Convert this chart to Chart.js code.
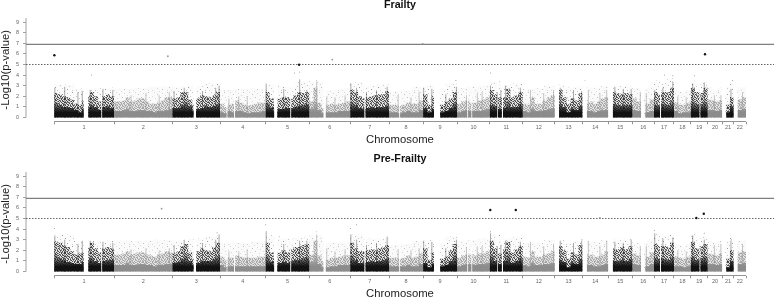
<!DOCTYPE html>
<html lang="en">
<head>
<meta charset="UTF-8" />
<title>Manhattan plots</title>
<script src="https://cdn.jsdelivr.net/npm/chart.js"></script>
<style>
    html, body { margin: 0; padding: 0; background: #fff; overflow: hidden; }
    .panel { position: absolute; left: 0; width: 778px; height: 145px; filter: blur(0.35px); }
</style>
</head>
<body>
<div class="panel" style="top:0"><canvas id="frailtyChart"></canvas></div>
<div class="panel" style="top:154px"><canvas id="preFrailtyChart"></canvas></div>
<script>
// genome position of chromosome edges (Mb)
const chromEdges = [0, 249, 492, 690, 880, 1061, 1232, 1393, 1535, 1676, 1812, 1949, 2082, 2197, 2304, 2405, 2495, 2578, 2648, 2718, 2780, 2826, 2878];
const chromNames = ['1', '2', '3', '4', '5', '6', '7', '8', '9', '10', '11', '12', '13', '14', '15', '16', '17', '18', '19', '20', '21', '22'];
const yTickValues = [0, 1, 2, 3, 4, 5, 6, 7, 8, 9];
const genomeLine = 6.9;
const suggestiveLine = 5;

// blank columns of the cloud (Mb)
const gapStarts = [123, 196, 580, 717, 748, 915, 982, 1120, 1290, 1435, 1580, 1718, 1735, 1842, 1862, 2082, 2197, 2304, 2441, 2520, 2684, 2778, 2826];
const gapEnds = [142, 200, 590, 721, 752, 928, 986, 1130, 1295, 1439, 1604, 1722, 1739, 1846, 1867, 2100, 2216, 2324, 2453, 2524, 2688, 2790, 2842];

// how many height readings per chromosome
const binCounts = [15, 15, 12, 12, 11, 10, 10, 8, 8, 8, 8, 8, 7, 7, 6, 5, 5, 4, 4, 4, 3, 3];
const hazeCount = 3;

// Frailty: height of solid cloud, speckled cloud and thin haze
const frailtyCore = [
    1.4, 1.2, 1.0, 1.0, 0.9, 0.7, 0.5, 0.8, 1.0, 1.2, 1.0, 0.7, 1.0, 1.1, 0.9,
    0.6, 0.6, 0.7, 0.8, 0.6, 0.6, 0.7, 0.7, 0.6, 0.6, 0.5, 0.6, 0.6, 0.7, 0.8,
    0.9, 0.9, 1.2, 1.5, 1.1, 0.6, 0.8, 0.9, 1.1, 1.0, 1.1, 1.3,
    0.5, 0.4, 0.6, 0.5, 0.6, 0.6, 0.5, 0.4, 0.5, 0.5, 0.5, 0.6,
    1.4, 0.9, 0.5, 0.8, 0.8, 0.9, 0.9, 1.0, 1.1, 1.2, 1.3,
    0.8, 1.5, 0.7, 0.4, 0.5, 0.5, 0.5, 0.6, 0.6, 0.6,
    1.4, 1.2, 0.9, 0.8, 0.9, 1.0, 0.9, 1.0, 1.0, 1.1,
    0.5, 0.5, 0.4, 0.5, 0.6, 0.5, 0.5, 0.7,
    0.9, 0.5, 0.8, 0, 0.5, 0.6, 0.9, 1.4,
    0.5, 0.6, 0.7, 0.6, 0.6, 0.6, 0.7, 0.8,
    1.2, 1.1, 0.8, 0.9, 1.6, 1.0, 1.0, 1.3,
    0.6, 0.5, 0.8, 0.6, 0.6, 0.7, 0.8, 0.9,
    1.2, 1.3, 1.0, 0.5, 0.8, 0.7, 1.1,
    0, 0.6, 0.6, 0.5, 0.6, 0.7, 0.7,
    0, 1.3, 1.2, 1.1, 1.2, 1.2,
    0.7, 0.6, 0, 0.5, 0.6,
    1.2, 1.1, 1.3, 1.2, 1.5,
    0.6, 0.4, 0.5, 0.5,
    1.5, 1.3, 1.3, 1.5,
    0.7, 0.7, 0.6, 0.7,
    0, 0.5, 1.1,
    0, 0.7, 0.8
];
const frailtyMid = [
    2.3, 2.2, 2.0, 1.9, 1.7, 1.3, 1.2, 1.6, 2.0, 2.4, 2.0, 1.5, 2.0, 2.2, 2.0,
    1.5, 1.5, 1.6, 1.9, 1.5, 1.6, 1.8, 1.8, 1.5, 1.3, 1.3, 1.4, 1.6, 1.9, 1.9,
    1.8, 1.9, 2.4, 2.4, 1.7, 1.2, 1.8, 2.1, 2.0, 1.9, 2.1, 2.4,
    1.3, 1.0, 1.2, 1.3, 1.6, 1.4, 1.2, 1.1, 1.2, 1.3, 1.4, 1.4,
    2.4, 1.8, 1.2, 1.8, 1.9, 1.9, 1.8, 2.1, 2.4, 2.3, 2.4,
    1.5, 2.8, 1.4, 0.9, 1.2, 1.3, 1.2, 1.3, 1.4, 1.5,
    2.6, 2.4, 2.0, 1.8, 1.9, 2.0, 2.1, 2.2, 2.2, 2.5,
    1.2, 1.2, 1.1, 1.2, 1.4, 1.3, 1.3, 1.6,
    2.2, 1.2, 2.0, 0, 1.2, 1.5, 1.8, 2.4,
    1.3, 1.5, 1.6, 1.4, 1.4, 1.6, 1.7, 1.9,
    2.6, 2.2, 1.9, 1.9, 2.7, 1.9, 2.1, 2.4,
    1.3, 1.2, 1.9, 1.3, 1.3, 1.6, 1.9, 2.1,
    2.4, 2.6, 1.9, 1.3, 1.8, 1.6, 2.3,
    0, 1.4, 1.5, 1.3, 1.5, 1.8, 1.9,
    0, 2.4, 2.3, 2.2, 2.3, 2.2,
    1.8, 1.5, 0, 1.3, 1.7,
    2.4, 2.2, 2.4, 2.4, 2.8,
    1.4, 1.2, 1.2, 1.4,
    2.8, 2.4, 2.3, 2.8,
    1.7, 1.6, 1.5, 1.6,
    0, 1.2, 1.9,
    0, 1.7, 1.9
];
const frailtyHaze = [
    3.1, 2.7, 2.8,   2.7, 2.8, 2.9,   2.9, 3.0, 3.2,   2.6, 2.7, 2.7,
    3.1, 2.9, 3.4,   3.4, 2.6, 2.7,   3.3, 3.0, 3.1,   2.5, 2.5, 2.9,
    3.0, 2.7, 3.2,   2.8, 2.9, 3.0,   3.4, 3.1, 3.2,   2.7, 2.8, 3.0,
    3.1, 2.8, 2.9,   2.8, 2.8, 3.0,   3.1, 3.0, 3.0,   2.8, 2.7, 2.9,
    3.5, 3.3, 3.7,   2.6, 2.4, 2.6,   3.5, 3.2, 3.4,   2.9, 2.6, 2.8,
    2.4, 3.0, 3.4,   2.8, 2.8, 2.9
];
const frailtyHitX = [1, 473, 1019, 1157, 1533, 2707];
const frailtyHitY = [5.87, 5.78, 4.97, 5.47, 6.94, 5.97];
const frailtySparseX = [155, 1000, 1021, 1091, 1671, 1815, 2208, 2539, 2573, 2663, 2822];
const frailtySparseY = [4.0, 4.2, 4.3, 3.5, 3.5, 4.2, 3.5, 4.0, 3.95, 3.95, 3.5];

// Pre-Frailty
const preCore = [
    1.6, 1.3, 1.1, 0.9, 0.8, 0.7, 0.7, 0.9, 1.1, 1.3, 1.0, 0.8, 1.0, 1.1, 1.1,
    0.6, 0.6, 0.6, 0.8, 0.6, 0.6, 0.7, 0.7, 0.6, 0.6, 0.5, 0.6, 0.6, 0.7, 0.7,
    0.8, 0.9, 1.2, 1.6, 1.0, 0.6, 0.8, 1.0, 1.0, 1.0, 1.2, 1.5,
    0.6, 0.4, 0.5, 0.5, 0.5, 0.5, 0.5, 0.5, 0.5, 0.5, 0.5, 0.5,
    1.5, 0.9, 0.5, 0.8, 0.9, 0.8, 1.0, 1.1, 1.1, 1.3, 1.4,
    0.9, 1.6, 0.7, 0.4, 0.4, 0.5, 0.5, 0.6, 0.6, 0.6,
    1.5, 1.1, 0.8, 0.8, 0.9, 1.0, 0.9, 1.0, 1.1, 1.2,
    0.5, 0.5, 0.5, 0.5, 0.6, 0.5, 0.5, 0.7,
    0.8, 0.4, 0.7, 0, 0.5, 0.6, 1.0, 1.6,
    0.5, 0.6, 0.7, 0.7, 0.6, 0.7, 0.7, 0.8,
    1.5, 1.0, 0.7, 1.0, 1.8, 0.8, 1.0, 1.3,
    0.6, 0.5, 0.8, 0.6, 0.6, 0.7, 0.7, 0.8,
    0.9, 1.1, 0.9, 0.4, 0.8, 0.7, 1.2,
    0, 0.6, 0.6, 0.5, 0.5, 0.6, 0.7,
    0, 1.0, 1.0, 1.1, 1.0, 1.2,
    0.7, 0.6, 0, 0.5, 0.7,
    1.3, 1.2, 1.2, 1.1, 1.4,
    0.5, 0.5, 0.4, 0.5,
    1.4, 1.1, 1.3, 1.4,
    0.7, 0.7, 0.6, 0.7,
    0, 0.4, 1.0,
    0, 0.7, 0.8
];
const preMid = [
    2.8, 2.7, 2.5, 2.3, 1.9, 1.6, 1.7, 1.8, 2.3, 2.7, 2.2, 1.8, 2.2, 2.3, 2.2,
    1.6, 1.6, 1.7, 1.9, 1.6, 1.7, 1.8, 1.8, 1.6, 1.5, 1.4, 1.6, 1.7, 1.9, 1.8,
    1.7, 1.9, 2.4, 2.6, 1.8, 1.2, 1.9, 2.2, 2.0, 1.9, 2.3, 2.7,
    1.4, 1.1, 1.3, 1.3, 1.5, 1.4, 1.3, 1.3, 1.3, 1.3, 1.4, 1.4,
    2.7, 1.8, 1.2, 1.8, 2.0, 1.8, 2.1, 2.3, 2.3, 2.5, 2.6,
    1.6, 2.9, 1.5, 1.0, 1.1, 1.3, 1.3, 1.4, 1.5, 1.5,
    2.7, 2.2, 1.9, 1.9, 2.0, 2.1, 2.0, 2.2, 2.3, 2.5,
    1.3, 1.3, 1.2, 1.3, 1.5, 1.3, 1.4, 1.7,
    2.2, 1.1, 1.8, 0, 1.2, 1.4, 2.0, 2.6,
    1.3, 1.5, 1.6, 1.6, 1.5, 1.7, 1.7, 1.9,
    2.9, 2.2, 1.7, 2.1, 2.8, 1.8, 2.1, 2.4,
    1.4, 1.3, 1.9, 1.4, 1.4, 1.6, 1.7, 1.9,
    2.2, 2.4, 2.0, 1.2, 1.8, 1.6, 2.5,
    0, 1.5, 1.6, 1.4, 1.4, 1.6, 1.9,
    0, 2.1, 2.1, 2.3, 2.1, 2.4,
    1.7, 1.5, 0, 1.4, 1.8,
    2.6, 2.4, 2.4, 2.3, 2.7,
    1.4, 1.3, 1.2, 1.4,
    2.8, 2.2, 2.4, 2.6,
    1.7, 1.6, 1.5, 1.7,
    0, 1.2, 2.0,
    0, 1.8, 1.9
];
const preHaze = [
    3.5, 2.9, 2.9,   2.9, 2.9, 3.0,   2.9, 3.1, 3.3,   2.7, 2.7, 2.8,
    3.4, 3.1, 3.2,   3.4, 2.7, 2.7,   3.5, 3.1, 3.1,   2.5, 2.6, 2.9,
    3.0, 2.6, 3.3,   2.9, 3.0, 3.1,   3.5, 3.1, 3.2,   2.7, 2.7, 3.0,
    3.0, 2.7, 2.9,   2.8, 2.8, 3.0,   3.1, 3.0, 3.1,   2.7, 2.7, 3.0,
    3.7, 3.5, 3.5,   2.6, 2.4, 2.6,   3.6, 3.2, 3.3,   2.9, 2.7, 2.9,
    2.4, 2.9, 3.3,   2.8, 2.9, 2.9
];
const preHitX = [447, 1814, 1920, 2270, 2671, 2702];
const preHitY = [5.93, 5.8, 5.8, 5.05, 5.05, 5.45];
const preSparseX = [1, 678, 880, 1091, 1233, 1257, 1815, 2195, 2497, 2653, 2704, 2816];
const preSparseY = [4.05, 3.65, 4.4, 3.75, 4.05, 4.4, 3.75, 3.0, 3.9, 3.3, 3.6, 3.0];

// narrow peaks standing out of the cloud (Mb, same columns in both panels)
const spikeDarkX = [3, 44, 99, 117, 150, 203, 244, 499, 541, 617, 672, 686, 882, 955, 1021, 1051, 1234, 1258, 1299, 1341, 1385, 1537, 1571, 1629, 1673, 1815, 1843, 1858, 1877, 1939, 2105, 2160, 2194, 2332, 2367, 2400, 2498, 2532, 2573, 2656, 2704, 2815];
const spikeGreyX = [320, 382, 437, 479, 727, 768, 803, 1092, 1134, 1168, 1210, 1431, 1484, 1518, 1715, 1760, 1780, 1981, 2036, 2077, 2222, 2270, 2298, 2438, 2463, 2594, 2629, 2746, 2773, 2863];
const frailtySpikeDark = [2.8, 2.9, 2.4, 2.5, 2.6, 2.7, 2.6, 2.5, 2.8, 2.5, 2.8, 3.0, 3.2, 2.7, 3.6, 2.6, 3.2, 2.8, 2.4, 2.5, 2.9, 2.8, 2.7, 2.2, 2.9, 3.0, 2.4, 2.6, 3.0, 2.8, 2.8, 2.6, 2.5, 2.9, 2.7, 2.7, 2.6, 2.8, 3.4, 3.2, 3.3, 2.7];
const frailtySpikeGrey = [2.1, 2.3, 2.1, 2.4, 1.8, 2.0, 2.0, 3.4, 2.0, 1.9, 2.1, 2.2, 1.9, 2.4, 2.1, 2.3, 2.4, 2.6, 2.3, 2.6, 2.6, 2.3, 2.6, 2.4, 2.3, 2.0, 1.9, 2.1, 2.1, 2.4];
const preSpikeDark = [3.4, 3.0, 2.6, 2.9, 2.9, 2.8, 2.7, 2.5, 3.0, 2.7, 3.0, 3.5, 3.8, 2.6, 2.9, 2.9, 3.5, 3.0, 2.5, 2.7, 3.3, 2.9, 2.8, 2.2, 3.0, 3.6, 2.4, 2.5, 2.9, 2.8, 2.9, 2.7, 2.9, 2.8, 2.7, 3.0, 3.6, 3.1, 3.2, 3.4, 3.0, 2.9];
const preSpikeGrey = [2.1, 2.2, 2.0, 2.2, 1.9, 1.9, 2.1, 3.5, 2.2, 1.9, 2.1, 2.1, 2.0, 2.2, 2.3, 2.3, 2.4, 2.8, 2.4, 2.6, 2.9, 2.4, 2.9, 2.4, 2.4, 2.0, 1.9, 2.5, 2.6, 2.6];

const xMin = -117, xMax = 2994, yMin = -0.38, yMax = 9.39;
const darkRgb = '18,18,18', greyRgb = '140,140,140';

// speckle texture of the overplotted points
const denseTile = [
    '#.+#.#+..#.+#',
    '.#.+#..#+.#..',
    '+.#..+#.#.+#.',
    '#+.#+..+.#..#',
    '.#..#.#+..#+.',
    '+.#+.+.#.+.#+',
    '#..#.#..#+.#.',
    '.+#..+#.+.#.+',
    '#.+.#..#.#+.#'
];
const thinTile = [
    '.......+...........',
    '..+............#...',
    '..........+........',
    '.....#.............',
    '.............+.....',
    '+..................',
    '........#.......+..',
    '...+...............',
    '............+......',
    '.................#.',
    '.....+.............',
    '..........#........',
    '+..............+...'
];

function makeTile(rows, rgb, strong, weak, tint) {
    const c = document.createElement('canvas');
    c.width = rows[0].length;
    c.height = rows.length;
    const g = c.getContext('2d');
    g.fillStyle = `rgba(${rgb},${tint})`;
    g.fillRect(0, 0, c.width, c.height);
    rows.forEach((row, y) => [...row].forEach((ch, x) => {
        if (ch === '.') return;
        g.fillStyle = `rgba(${rgb},${ch === '#' ? strong : weak})`;
        g.fillRect(x, y, 1, 1);
    }));
    return g.createPattern(c, 'repeat');
}

function chromAt(x) {
    let c = 0;
    while (c < 21 && x >= chromEdges[c + 1]) c++;
    return c;
}

// stepped outline of one layer, only for odd or even chromosomes, blank in the gaps
function cloudPoints(heights, countFor, parity) {
    const cuts = new Set([...gapStarts, ...gapEnds]);
    chromEdges.slice(0, -1).forEach((start, c) => {
        const n = countFor(c);
        for (let j = 0; j <= n; j++) cuts.add(start + (chromEdges[c + 1] - start) * j / n);
    });
    const sorted = [...cuts].sort((a, b) => a - b);
    const offsets = [];
    let total = 0;
    chromEdges.slice(0, -1).forEach((_, c) => { offsets.push(total); total += countFor(c); });
    const pts = [];
    for (let i = 0; i < sorted.length - 1; i++) {
        const mid = (sorted[i] + sorted[i + 1]) / 2;
        const c = chromAt(mid);
        const inGap = gapStarts.some((g, k) => mid > g && mid < gapEnds[k]);
        const j = Math.floor((mid - chromEdges[c]) / (chromEdges[c + 1] - chromEdges[c]) * countFor(c));
        const h = inGap || c % 2 !== parity ? 0 : heights[offsets[c] + j];
        pts.push({ x: sorted[i], y: h });
    }
    pts.push({ x: sorted[sorted.length - 1], y: 0 });
    return pts;
}

function layer(heights, countFor, parity, color) {
    return {
        data: cloudPoints(heights, countFor, parity),
        stepped: true, fill: 'origin', backgroundColor: color,
        borderWidth: 0, pointRadius: 0
    };
}

// solid at the base, thinning upward
function coreFill(rgb) {
    return ctx => {
        const chart = ctx.chart;
        if (!chart.chartArea) return `rgb(${rgb})`;
        const y = chart.scales.y;
        const g = chart.ctx.createLinearGradient(0, y.getPixelForValue(0), 0, y.getPixelForValue(1.6));
        g.addColorStop(0, `rgba(${rgb},1)`);
        g.addColorStop(0.3, `rgba(${rgb},1)`);
        g.addColorStop(1, `rgba(${rgb},0.2)`);
        return g;
    };
}

function flatLine(xs, ys, color, width, dash) {
    return {
        data: xs.map((x, i) => ({ x: x, y: ys[i] })),
        borderColor: color, borderWidth: width, borderDash: dash || [],
        pointRadius: 0, fill: false, clip: false
    };
}

// one thin column per peak, broken apart with empty points
function spikes(xs, ys, color) {
    const pts = [];
    xs.forEach((x, i) => {
        pts.push({ x: x, y: 0 }, { x: x, y: ys[i] }, { x: x, y: null });
    });
    return { data: pts, borderColor: color, borderWidth: 0.9, pointRadius: 0, fill: false, spanGaps: false };
}

function dots(xs, ys, radiusDark, radiusGrey, alphaDark, alphaGrey) {
    const isDark = ctx => chromAt(xs[ctx.dataIndex]) % 2 === 0;
    return {
        data: xs.map((x, i) => ({ x: x, y: ys[i] })),
        showLine: false, borderWidth: 0,
        pointRadius: ctx => isDark(ctx) ? radiusDark : radiusGrey,
        pointBackgroundColor: ctx => isDark(ctx)
            ? `rgba(${darkRgb},${alphaDark})` : `rgba(${greyRgb},${alphaGrey})`
    };
}

function drawPanel(id, titleText, core, mid, haze, hitX, hitY, sparseX, sparseY, spikeDark, spikeGrey) {
    const perChrom = c => binCounts[c];
    const perHaze = () => hazeCount;
    const datasets = [
        dots(hitX, hitY, 1.2, 0.9, 1, 0.9),
        dots(sparseX, sparseY, 0.5, 0.5, 0.5, 0.6),
        flatLine([xMin, xMax], [genomeLine, genomeLine], '#808080', 1.2),
        flatLine([xMin, xMax], [suggestiveLine, suggestiveLine], '#555', 0.9, [1.5, 1.5]),
        flatLine([xMin, xMin], [0, yMax], '#8a8a8a', 0.8),
        flatLine([chromEdges[0], chromEdges[22]], [yMin, yMin], '#777', 0.8),
        layer(core, perChrom, 0, coreFill(darkRgb)),
        layer(core, perChrom, 1, coreFill(greyRgb)),
        spikes(spikeDarkX, spikeDark, `rgba(${darkRgb},0.4)`),
        spikes(spikeGreyX, spikeGrey, `rgba(${greyRgb},0.55)`),
        layer(mid, perChrom, 0, makeTile(denseTile, darkRgb, 0.75, 0.45, 0.1)),
        layer(mid, perChrom, 1, makeTile(denseTile, greyRgb, 0.7, 0.45, 0.2)),
        layer(haze, perHaze, 0, makeTile(thinTile, darkRgb, 0.4, 0.22, 0.015)),
        layer(haze, perHaze, 1, makeTile(thinTile, greyRgb, 0.5, 0.3, 0.04))
    ];
    new Chart(document.getElementById(id), {
        type: 'line',
        data: { datasets: datasets },
        options: {
            responsive: false, animation: false, devicePixelRatio: 1,
            layout: { padding: 0 },
            plugins: {
                legend: { display: false }, tooltip: { enabled: false },
                title: {
                    display: true, text: titleText, color: '#111', fullSize: false,
                    font: { family: 'Liberation Sans', size: 10.7, weight: 'bold' },
                    padding: { top: -1.4, bottom: 6.56 }
                }
            },
            scales: {
                x: {
                    type: 'linear', min: xMin, max: xMax,
                    afterFit: s => { s.height = 23.5; },
                    afterBuildTicks: s => {
                        const t = [];
                        chromEdges.forEach((e, c) => {
                            t.push({ value: e });
                            if (c < 22) t.push({ value: (e + chromEdges[c + 1]) / 2, name: chromNames[c] });
                        });
                        s.ticks = t;
                    },
                    border: { display: false },
                    grid: {
                        drawOnChartArea: false, tickLength: 2.8, lineWidth: 0.8,
                        tickColor: ctx => ctx.tick && ctx.tick.name ? 'rgba(0,0,0,0)' : '#777'
                    },
                    ticks: {
                        autoSkip: false, maxRotation: 0, minRotation: 0, padding: 0, color: '#666',
                        font: { family: 'Liberation Sans', size: 5.5 },
                        callback: (v, i, ticks) => ticks[i].name || ''
                    },
                    title: {
                        display: true, text: 'Chromosome', color: '#222',
                        font: { family: 'Liberation Sans', size: 11.3 },
                        padding: { top: 0, bottom: -1.8 }
                    }
                },
                y: {
                    type: 'linear', min: yMin, max: yMax,
                    afterFit: s => { s.width = 26; },
                    afterBuildTicks: s => { s.ticks = yTickValues.map(v => ({ value: v })); },
                    border: { display: false },
                    grid: { drawOnChartArea: false, tickLength: 3, lineWidth: 0.8, tickColor: '#8a8a8a' },
                    ticks: {
                        padding: 4, color: '#666',
                        font: { family: 'Liberation Sans', size: 5.5 }
                    },
                    title: {
                        display: true, text: '-Log10(p-value)', color: '#222',
                        font: { family: 'Liberation Sans', size: 11.3 },
                        padding: { top: -0.8, bottom: 0 }
                    }
                }
            }
        }
    });
}

const setSize = id => { const c = document.getElementById(id); c.width = 778; c.height = 145; };
setSize('frailtyChart');
setSize('preFrailtyChart');
drawPanel('frailtyChart', 'Frailty', frailtyCore, frailtyMid, frailtyHaze, frailtyHitX, frailtyHitY, frailtySparseX, frailtySparseY, frailtySpikeDark, frailtySpikeGrey);
drawPanel('preFrailtyChart', 'Pre-Frailty', preCore, preMid, preHaze, preHitX, preHitY, preSparseX, preSparseY, preSpikeDark, preSpikeGrey);
</script>
</body>
</html>
